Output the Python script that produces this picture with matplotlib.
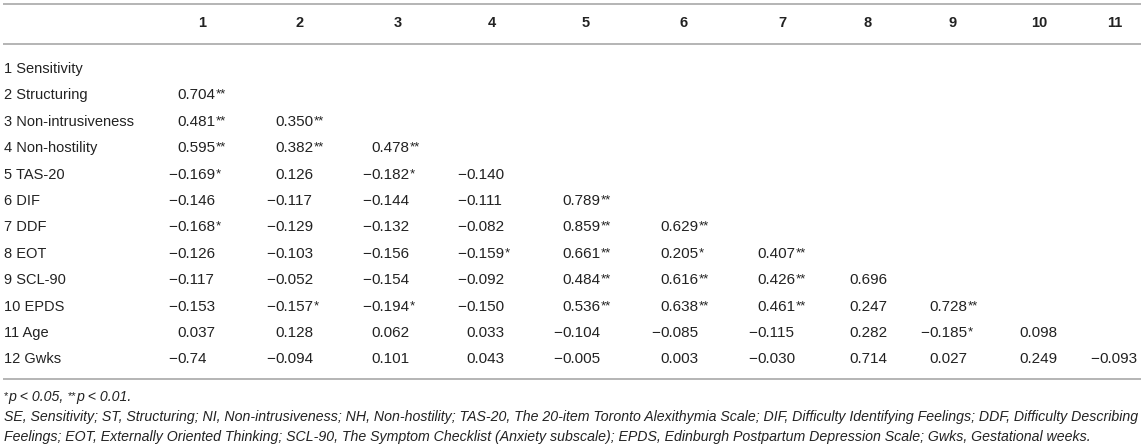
import matplotlib
matplotlib.use("Agg")
import matplotlib.pyplot as plt

plt.rcParams['font.family'] = ['Liberation Sans', 'DejaVu Sans']

# ---------------- data ----------------
col_headers = ["1", "2", "3", "4", "5", "6", "7", "8", "9", "10", "11"]
row_labels = ["1 Sensitivity", "2 Structuring", "3 Non-intrusiveness", "4 Non-hostility",
              "5 TAS-20", "6 DIF", "7 DDF", "8 EOT", "9 SCL-90", "10 EPDS", "11 Age", "12 Gwks"]
r1 = []
r2 = ["0.704**"]
r3 = ["0.481**", "0.350**"]
r4 = ["0.595**", "0.382**", "0.478**"]
r5 = ["-0.169*", "0.126", "-0.182*", "-0.140"]
r6 = ["-0.146", "-0.117", "-0.144", "-0.111", "0.789**"]
r7 = ["-0.168*", "-0.129", "-0.132", "-0.082", "0.859**", "0.629**"]
r8 = ["-0.126", "-0.103", "-0.156", "-0.159*", "0.661**", "0.205*", "0.407**"]
r9 = ["-0.117", "-0.052", "-0.154", "-0.092", "0.484**", "0.616**", "0.426**", "0.696"]
r10 = ["-0.153", "-0.157*", "-0.194*", "-0.150", "0.536**", "0.638**", "0.461**", "0.247", "0.728**"]
r11 = ["0.037", "0.128", "0.062", "0.033", "-0.104", "-0.085", "-0.115", "0.282", "-0.185*", "0.098"]
r12 = ["-0.74", "-0.094", "0.101", "0.043", "-0.005", "0.003", "-0.030", "0.714", "0.027", "0.249", "-0.093"]
rows = [r1, r2, r3, r4, r5, r6, r7, r8, r9, r10, r11, r12]

note_sig = [("*", "star"), ("p < 0.05, ", "it"), ("**", "star"), ("p < 0.01.", "it")]
note_abbr1 = ("SE, Sensitivity; ST, Structuring; NI, Non-intrusiveness; NH, Non-hostility; "
              "TAS-20, The 20-item Toronto Alexithymia Scale; DIF, Difficulty Identifying Feelings; "
              "DDF, Difficulty Describing")
note_abbr2 = ("Feelings; EOT, Externally Oriented Thinking; SCL-90, The Symptom Checklist "
              "(Anxiety subscale); EPDS, Edinburgh Postpartum Depression Scale; Gwks, Gestational weeks.")

# ---------------- layout ----------------
W, H = 1145, 448
fig = plt.figure(figsize=(W / 100, H / 100), dpi=100)
ax = fig.add_axes([0, 0, 1, 1])
ax.set_xlim(0, W)
ax.set_ylim(H, 0)
ax.axis('off')
renderer = fig.canvas.get_renderer()

TXT = '#222222'
LINE = '#b4b4b4'
FS = 10.5
NUM_FS = 11
STAR_FS = 9.5

header_x = [202, 300, 398, 492, 586, 684, 782, 868, 953, 1039, 1115]
digit_x = [177, 275, 371, 466, 562, 660, 757, 849, 929, 1019, 1099]
header_y = 23
row_y0 = 68
row_dy = 26.4
left_x = 4

def px_width(t):
    return t.get_window_extent(renderer).width

# rules
for yy in (4, 44, 379):
    ax.hlines(yy, 3, 1141, color=LINE, lw=1.4)

# header
for hx, h in zip(header_x, col_headers):
    ax.text(hx, header_y, h, ha='center', va='center', fontsize=FS,
            fontweight='bold', color=TXT)

# rows
for i, (lab, vals) in enumerate(zip(row_labels, rows)):
    yc = row_y0 + i * row_dy
    yb = yc + 5
    ax.text(left_x, yb, lab, ha='left', va='baseline', fontsize=FS, color=TXT)
    for j, s in enumerate(vals):
        neg = s.startswith('-')
        core = s.lstrip('-')
        num = core.rstrip('*')
        nstar = len(core) - len(num)
        x0 = digit_x[j]
        if neg:
            ax.text(x0, yb, '\u2212', ha='right', va='baseline', fontsize=NUM_FS, color=TXT)
        t = ax.text(x0, yb, num, ha='left', va='baseline', fontsize=NUM_FS, color=TXT)
        if nstar:
            ax.text(x0 + px_width(t) + 0.5, yb - 1.5, '*' * nstar, ha='left',
                    va='baseline', fontsize=STAR_FS, color=TXT)

# footnotes
probe = ax.text(0, 0, note_abbr1, fontsize=10, style='italic')
fw = px_width(probe)
probe.remove()
NFS = 10 * (1136 / fw)

xx = left_x
yb1 = 397 + 4.5
for piece, kind in note_sig:
    if kind == 'star':
        t = ax.text(xx, yb1 - 2, piece, ha='left', va='baseline', fontsize=8, color=TXT)
    else:
        t = ax.text(xx, yb1, piece, ha='left', va='baseline', fontsize=NFS,
                    style='italic', color=TXT)
    xx += px_width(t)

ax.text(left_x, 417 + 4.5, note_abbr1, ha='left', va='baseline', fontsize=NFS,
        style='italic', color=TXT)
ax.text(left_x, 437 + 4.5, note_abbr2, ha='left', va='baseline', fontsize=NFS,
        style='italic', color=TXT)

fig.savefig('out.png', dpi=100, facecolor='white')
